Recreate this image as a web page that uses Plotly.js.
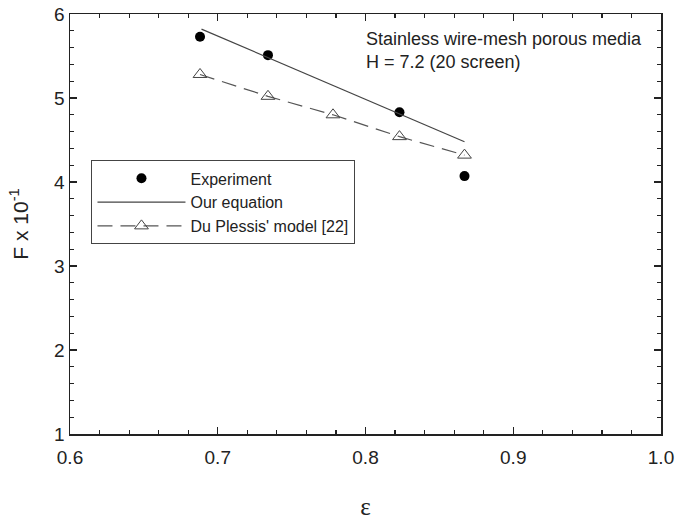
<!DOCTYPE html>
<html>
<head>
<meta charset="utf-8">
<script src="https://cdn.plot.ly/plotly-3.0.1.min.js"></script>
<style>html,body{margin:0;padding:0;background:#fff;}#chart{width:676px;height:520px;}</style>
</head>
<body>
<div id="chart"></div>
<script>
// Experiment data
var expX = [0.688, 0.734, 0.823, 0.867];
var expY = [5.73, 5.51, 4.83, 4.07];
// Our equation (straight line endpoints)
var eqX = [0.689, 0.867];
var eqY = [5.82, 4.48];
// Du Plessis' model [22]
var dpX = [0.688, 0.734, 0.778, 0.823, 0.867];
var dpY = [5.28, 5.02, 4.80, 4.54, 4.32];

var xTicks = [0.6, 0.7, 0.8, 0.9, 1.0];
var xTickText = ['0.6', '0.7', '0.8', '0.9', '1.0'];
var yTicks = [1, 2, 3, 4, 5, 6];

var FONT = 'Arial, "Liberation Sans", sans-serif';

var traces = [
  {
    x: expX, y: expY, type: 'scatter', mode: 'markers', name: 'Experiment',
    marker: {symbol: 'circle', size: 10, color: '#000'}
  },
  {
    x: eqX, y: eqY, type: 'scatter', mode: 'lines', name: 'Our equation',
    line: {color: '#444', width: 1.2}
  },
  {
    x: dpX, y: dpY, type: 'scatter', mode: 'lines+markers', name: "Du Plessis' model [22]",
    line: {color: '#555', width: 1.2, dash: '15px,8px'},
    marker: {symbol: 'triangle-up-open', size: 12, color: '#444', line: {width: 1}}
  }
];

var axisCommon = {
  showgrid: false, zeroline: false, showline: true, linecolor: '#222', linewidth: 1.5,
  mirror: 'ticks', ticks: 'inside', ticklen: 7, tickwidth: 1.2, tickcolor: '#222',
  tickfont: {family: FONT, size: 19, color: '#222'},
  ticklabeloverflow: 'allow'
};

var layout = {
  width: 676, height: 520,
  margin: {l: 70, r: 15, t: 14, b: 86},
  paper_bgcolor: '#fff', plot_bgcolor: '#fff',
  showlegend: true,
  xaxis: Object.assign({}, axisCommon, {
    range: [0.6, 1.0], tickmode: 'array', tickvals: xTicks, ticktext: xTickText,
    ticklabelstandoff: 6,
    minor: {dtick: 0.02, ticks: 'inside', ticklen: 4, tickwidth: 1.2, tickcolor: '#222'},
    title: {text: 'ε', font: {family: '"Liberation Serif", "DejaVu Serif", serif', size: 25, color: '#222'}, standoff: 30}
  }),
  yaxis: Object.assign({}, axisCommon, {
    range: [1, 6], tickmode: 'array', tickvals: yTicks,
    minor: {dtick: 0.2, ticks: 'inside', ticklen: 4, tickwidth: 1.2, tickcolor: '#222'},
    title: {text: 'F x 10<sup>-1</sup>', font: {family: FONT, size: 21, color: '#222'}, standoff: 20}
  }),
  legend: {
    x: 0.036, y: 0.652, xanchor: 'left', yanchor: 'top',
    bgcolor: '#fff', bordercolor: '#444', borderwidth: 1.2,
    font: {family: FONT, size: 16, color: '#222'},
    itemwidth: 88, tracegroupgap: 0
  },
  annotations: [{
    xref: 'paper', yref: 'paper', x: 0.497, y: 0.968, xanchor: 'left', yanchor: 'top',
    align: 'left', showarrow: false,
    text: 'Stainless wire-mesh porous media<br>H = 7.2 (20 screen)',
    font: {family: FONT, size: 18, color: '#222'}
  }]
};

Plotly.newPlot('chart', traces, layout, {displayModeBar: false, staticPlot: true});
</script>
</body>
</html>
